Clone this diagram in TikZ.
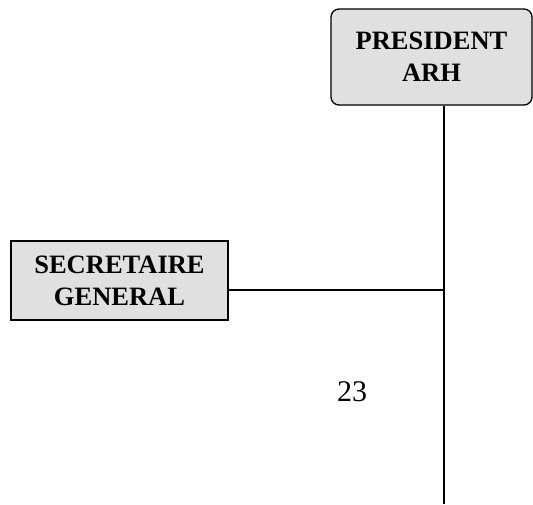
\documentclass[tikz,border=0pt]{standalone}
\usepackage{fontspec}
\setmainfont{Liberation Serif}
\usepackage{tikz}
\usetikzlibrary{positioning}
\tikzstyle{box} = [draw, line width=1.3pt, fill=black!12, align=center, inner sep=0pt, font=\fontsize{26.5}{32}\selectfont\bfseries]
\tikzstyle{link} = [-, line width=1.5pt]

\begin{document}
\begin{tikzpicture}[x=1pt,y=-1pt]
    \useasboundingbox (0,0) rectangle (533,504);
    \node[box, rounded corners=8pt, minimum width=201pt, minimum height=96pt](pres) at (431.5,57) {PRESIDENT\\ARH};
    \node[box, minimum width=217pt, minimum height=79pt](sg) at (119.5,280.5) {SECRETAIRE\\GENERAL};

    \coordinate (junc) at (444,290);
    \coordinate (bottom) at (444,504);

    \draw[link](junc |- pres.south) -- (bottom);
    \draw[link](sg.east |- junc) -- (junc);

    \node[font=\fontsize{30}{34}\selectfont](page) at (352,391.5) {23};
\end{tikzpicture}
\end{document}
